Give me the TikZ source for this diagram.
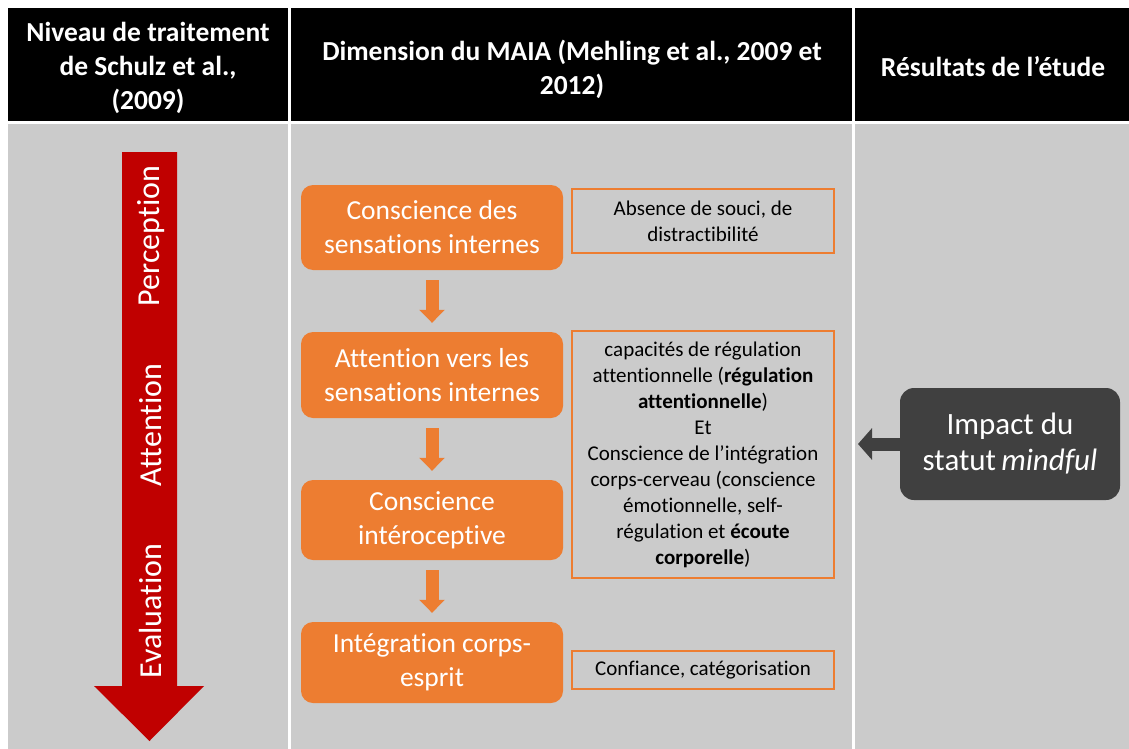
\documentclass[tikz,border=0pt]{standalone}
\usepackage{fontspec}
\setmainfont{Carlito}[Ligatures=NoCommon]
\usetikzlibrary{arrows.meta,calc}
\definecolor{bggrey}{HTML}{CBCBCB}
\definecolor{redarrow}{HTML}{C00000}
\definecolor{orangebox}{HTML}{ED7D31}
\definecolor{darkbox}{HTML}{404040}
\begin{document}
\begin{tikzpicture}[x=1pt,y=-1pt,
  headtext/.style={text=white,align=center,font=\fontsize{27.5}{34}\bfseries\selectfont},
  levellabel/.style={text=white,rotate=90,font=\fontsize{32}{36}\selectfont},
  dimbox/.style={fill=orangebox,rounded corners=12pt,minimum width=262pt,text=white,align=center,font=\fontsize{27.5}{34}\selectfont,inner sep=0pt},
  resbox/.style={draw=orangebox,line width=1.5pt,minimum width=262pt,align=center,font=\fontsize{21}{26}\selectfont,inner sep=0pt},
  flowarrow/.style={draw=orangebox,line width=13pt,-{Triangle[width=25pt,length=13pt]}},
  impactbox/.style={fill=darkbox,rounded corners=14pt,minimum width=220pt,minimum height=112pt,text=white,align=center,font=\fontsize{31}{36}\selectfont,inner sep=0pt},
  impactarrow/.style={draw=darkbox,line width=13pt,-{Triangle[width=31pt,length=14pt]}}
]
\useasboundingbox (0,0) rectangle (1129,749);
\fill[white] (0,0) rectangle (1129,749);
\fill[black] (8,8) rectangle (1129,121);
\fill[bggrey] (8,124) rectangle (1129,749);
\draw[white,line width=2.5pt] (289.5,8) -- (289.5,749);
\draw[white,line width=2.5pt] (853.5,8) -- (853.5,749);

% headers
\node[headtext] (h1) at (148,68) {Niveau de traitement\\de Schulz et al.,\\(2009)};
\node[headtext] (h2) at (572,69) {Dimension du MAIA (Mehling et al., 2009 et\\2012)};
\node[headtext] (h3) at (993,67) {Résultats de l’étude};

% red arrow
\fill[redarrow] (122,152) -- (177,152) -- (177,686) -- (204,686) -- (149.5,741) -- (94,686) -- (122,686) -- cycle;
\node[levellabel] (perc) at (151,236) {Perception};
\node[levellabel] (att) at (151,425) {Attention};
\node[levellabel] (eval) at (151,611) {Evaluation};

% orange boxes
\node[dimbox,minimum height=85pt] (b1) at (432,227.5) {Conscience des\\sensations internes};
\node[dimbox,minimum height=86pt] (b2) at (432,375) {Attention vers les\\sensations internes};
\node[dimbox,minimum height=80pt] (b3) at (432,520) {Conscience\\intéroceptive};
\node[dimbox,minimum height=81pt] (b4) at (432,662.5) {Intégration corps-\\esprit};

\draw[flowarrow,shorten <=10pt,shorten >=9pt] (b1.south) -- (b2.north);
\draw[flowarrow,shorten <=10pt,shorten >=9pt] (b2.south) -- (b3.north);
\draw[flowarrow,shorten <=10pt,shorten >=9pt] (b3.south) -- (b4.north);

% result boxes
\node[resbox,minimum height=64pt] (r1) at (703,221) {Absence de souci, de\\distractibilité};
\node[resbox,minimum height=247pt] (r2) at (703,454.5) {capacités de régulation\\attentionnelle (\textbf{régulation}\\\textbf{attentionnelle})\\Et\\Conscience de l’intégration\\corps-cerveau (conscience\\émotionnelle, self-\\régulation et \textbf{écoute}\\\textbf{corporelle})};
\node[resbox,minimum height=38pt] (r3) at (703,670) {Confiance, catégorisation};

% impact
\node[impactbox] (imp) at (1010,444) {Impact du\\statut\,\textit{mindful}};
\coordinate (impend) at (858,444);
\draw[impactarrow] (imp.west) -- (impend);
\end{tikzpicture}
\end{document}
